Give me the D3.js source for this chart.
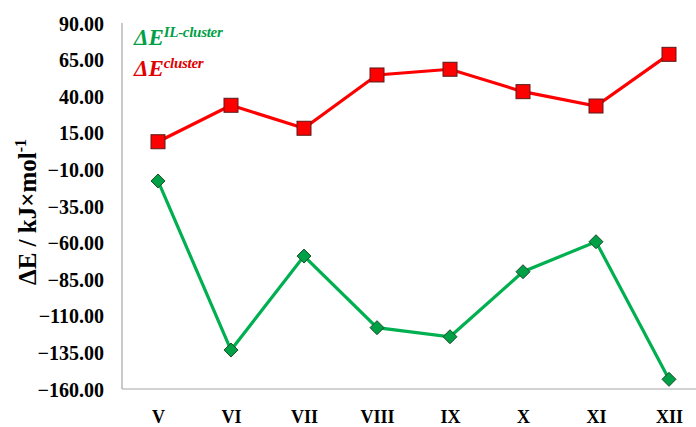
<!DOCTYPE html>
<html>
<head>
<meta charset="utf-8">
<script src="https://cdn.jsdelivr.net/npm/d3@7"></script>
<style>
  html, body { margin: 0; padding: 0; background: #fff; }
  svg { display: block; }
</style>
</head>
<body>
<svg id="chart" width="696" height="427"></svg>
<script>
// Structures along the x axis
const categories = ["V", "VI", "VII", "VIII", "IX", "X", "XI", "XII"];
// ΔE^cluster (kJ/mol)
const clusterValues = [8.9, 33.8, 18.1, 54.5, 58.4, 43.1, 33.3, 68.6];
// ΔE^IL-cluster (kJ/mol)
const ilClusterValues = [-17.9, -133.4, -69.2, -118.1, -124.3, -79.9, -59.4, -153.4];
// Y axis ticks
const yTicks = [90, 65, 40, 15, -10, -35, -60, -85, -110, -135, -160];

const svg = d3.select("#chart");
const serif = "'Liberation Serif', 'DejaVu Serif', serif";

const plotLeft = 122, plotRight = 696, plotTop = 23, plotBottom = 389;

const x = d3.scalePoint().domain(categories).range([158, 669]);
const y = d3.scaleLinear().domain([-160, 90]).range([plotBottom, plotTop]);

// Axis lines
svg.append("line")
  .attr("x1", plotLeft).attr("x2", plotLeft)
  .attr("y1", plotTop).attr("y2", plotBottom)
  .attr("stroke", "#a6a6a6").attr("stroke-width", 1.2);
svg.append("line")
  .attr("x1", plotLeft).attr("x2", plotRight)
  .attr("y1", plotBottom).attr("y2", plotBottom)
  .attr("stroke", "#a6a6a6").attr("stroke-width", 1.2);

// Y tick labels
const yAxis = d3.axisLeft(y).tickValues(yTicks).tickSize(0).tickPadding(0)
  .tickFormat(d3.format(".2f"));
const gy = svg.append("g").attr("transform", `translate(104,0)`).call(yAxis);
gy.select(".domain").remove();
gy.selectAll("text")
  .attr("font-family", serif).attr("font-weight", "bold")
  .attr("font-size", 20).attr("fill", "#000").attr("dy", "0.35em");

// X tick labels
const xAxis = d3.axisBottom(x).tickSize(0).tickPadding(0);
const gx = svg.append("g").attr("transform", `translate(0,${plotBottom + 21})`).call(xAxis);
gx.select(".domain").remove();
gx.selectAll("text")
  .attr("font-family", serif).attr("font-weight", "bold")
  .attr("font-size", 18).attr("fill", "#000");

// Y axis title
const yt = svg.append("text")
  .attr("transform", `translate(36,212) rotate(-90)`)
  .attr("text-anchor", "middle")
  .attr("font-family", serif).attr("font-weight", "bold")
  .attr("font-size", 25).attr("fill", "#000");
yt.append("tspan").text("ΔE / kJ×mol");
yt.append("tspan").attr("dy", -10).attr("font-size", 16).text("-1");

const line = d3.line().x((d, i) => x(categories[i])).y(d => y(d));

// ΔE^cluster series
svg.append("path").datum(clusterValues)
  .attr("d", line).attr("fill", "none")
  .attr("stroke", "#ff0000").attr("stroke-width", 3.2);
svg.selectAll(".sq").data(clusterValues).enter().append("rect")
  .attr("x", (d, i) => x(categories[i]) - 7)
  .attr("y", d => y(d) - 7)
  .attr("width", 14).attr("height", 14)
  .attr("fill", "#ff0000").attr("stroke", "#5a1a1a").attr("stroke-width", 1);

// ΔE^IL-cluster series
svg.append("path").datum(ilClusterValues)
  .attr("d", line).attr("fill", "none")
  .attr("stroke", "#00b050").attr("stroke-width", 3.2);
svg.selectAll(".dm").data(ilClusterValues).enter().append("path")
  .attr("transform", (d, i) => `translate(${x(categories[i])},${y(d)})`)
  .attr("d", "M0,-7L7,0L0,7L-7,0Z")
  .attr("fill", "#00a046").attr("stroke", "#1e4a2a").attr("stroke-width", 1);

// Legend labels
function legendLabel(yPos, sup, color) {
  const t = svg.append("text")
    .attr("x", 134).attr("y", yPos)
    .attr("font-family", serif).attr("font-weight", "bold").attr("font-style", "italic")
    .attr("font-size", 23).attr("fill", color);
  t.append("tspan").text("ΔE");
  t.append("tspan").attr("dy", -8).attr("font-size", 15).attr("letter-spacing", -0.3).text(sup);
}
legendLabel(45, "IL-cluster", "#00a046");
legendLabel(76, "cluster", "#e00000");
</script>
</body>
</html>
